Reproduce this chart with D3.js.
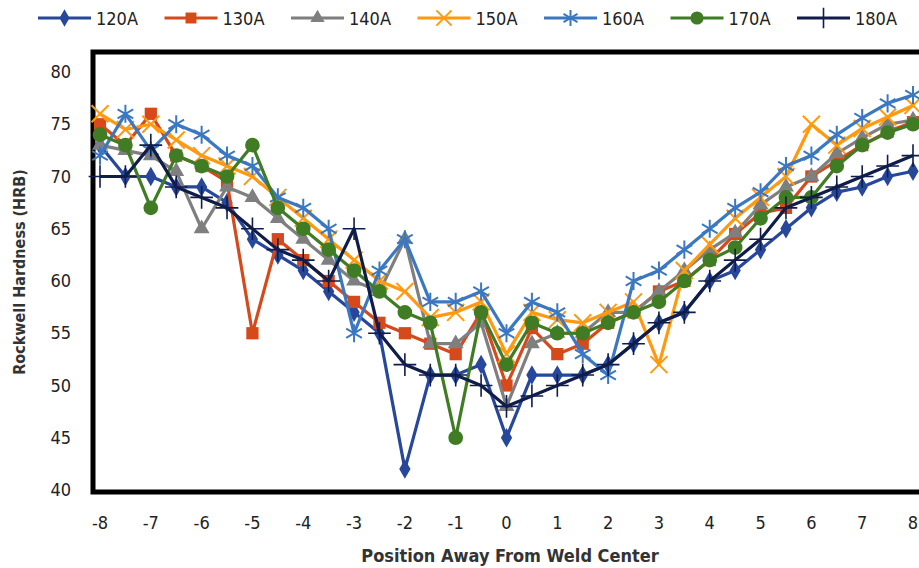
<html>
<head>
<meta charset="utf-8">
<script src="https://d3js.org/d3.v7.min.js"></script>
<style>
body { margin:0; background:#fff; }
text { font-family: "Liberation Sans Narrow", "DejaVu Sans Condensed", "Liberation Sans", sans-serif; }
</style>
</head>
<body>
<svg width="919" height="568"></svg>
<script>
// positions along the weld (mm)
var positions = [-8,-7.5,-7,-6.5,-6,-5.5,-5,-4.5,-4,-3.5,-3,-2.5,-2,-1.5,-1,-0.5,0,0.5,1,1.5,2,2.5,3,3.5,4,4.5,5,5.5,6,6.5,7,7.5,8];

var h120 = [73,70,70,69,69,67.5,64,62.5,61,59,57,55,42,51,51,52,45,51,51,51,52,54,56,57,60,61,63,65,67,68.5,69,70,70.5];
var h130 = [75,73,76,72,71,69.5,55,64,62,60,58,56,55,54,53,57,50,55.5,53,54,56,57,59,60,62,64.5,66.5,67,70,71.5,73,74.3,75.2];
var h140 = [73,72.5,72,70.5,65,69,68,66,64,62,60,59,64,54,54,56,48,54,55,55,57,57,59,61,63,64.6,67.3,69,70,72.2,73.7,75,75.4];
var h150 = [76,74.5,75,73.5,72,71,70,68,66,64,62,60,59,56.5,57,58,53,57,56.3,56,57,58,52,61,63.5,66,68,70,75,73,74.6,75.7,76.8];
var h160 = [72,76,72.5,75,74,72,71,68,67,65,55,61,64,58,58,59,55,58,57,53,51,60,61,63,65,67,68.5,71,72,74,75.6,77,77.8];
var h170 = [74,73,67,72,71,70,73,67,65,63,61,59,57,56,45,57,52,56,55,55,56,57,58,60,62,63.2,66,68,68,71,73,74.2,75];
var h180 = [70,70,73,69,68,67,65,63,62,60,65,55,52,51,51,50,48,49,50,51,52,54,56,57,60,62,64,67,68,69,70,71,72];

var seriesNames = ["120A","130A","140A","150A","160A","170A","180A"];
var seriesValues = [h120,h130,h140,h150,h160,h170,h180];
var xTicks = [-8,-7,-6,-5,-4,-3,-2,-1,0,1,2,3,4,5,6,7,8];
var yTicks = [40,45,50,55,60,65,70,75,80];

var colors = ["#27479b","#d6491a","#7f7f7f","#ff9a10","#3b78c1","#3f7c24","#101d4a"];
var shapes = [d3.symbolDiamond, d3.symbolSquare, d3.symbolTriangle, d3.symbolTimes, d3.symbolAsterisk, d3.symbolCircle, d3.symbolPlus];
var sizes = [110,150,110,190,230,170,170];
var stroked = [false,false,false,true,true,false,true];
var strokeW = [0,0,0,2,2,0,1.6];

var svg = d3.select("svg");

var x = d3.scaleLinear().domain([-8,8]).range([100,913]);
var y = d3.scaleLinear().domain([40,80]).range([490,72]);

// frame
svg.append("rect")
  .attr("x",93).attr("y",52)
  .attr("width",840).attr("height",y(40)-52+2)
  .attr("fill","none").attr("stroke","#000").attr("stroke-width",5);

// tick labels
svg.append("g").selectAll("text").data(yTicks).enter().append("text")
  .attr("x",71).attr("y",function(d){ return y(d)+6; })
  .attr("text-anchor","end").attr("font-size",18).attr("fill","#222")
  .text(function(d){ return d; });

svg.append("g").selectAll("text").data(xTicks).enter().append("text")
  .attr("x",function(d){ return x(d); }).attr("y",529)
  .attr("text-anchor","middle").attr("font-size",18).attr("fill","#222")
  .text(function(d){ return d; });

// axis titles
svg.append("text")
  .attr("x",510).attr("y",562)
  .attr("text-anchor","middle").attr("font-size",18).attr("font-weight","bold").attr("fill","#333")
  .text("Position Away From Weld Center");

svg.append("text")
  .attr("transform","translate(25,272) rotate(-90)")
  .attr("text-anchor","middle").attr("font-size",16).attr("font-weight","bold").attr("fill","#333")
  .text("Rockwell Hardness (HRB)");

var line = d3.line()
  .x(function(d,i){ return x(positions[i]); })
  .y(function(d){ return y(d); });

seriesValues.forEach(function(vals,k){
  var g = svg.append("g");
  g.append("path").datum(vals)
    .attr("d",line)
    .attr("fill","none").attr("stroke",colors[k]).attr("stroke-width",3.2)
    .attr("stroke-linejoin","round");
  g.selectAll("path.m").data(vals).enter().append("path")
    .attr("class","m")
    .attr("transform",function(d,i){ return "translate("+x(positions[i])+","+y(d)+")"; })
    .attr("d",d3.symbol().type(shapes[k]).size(sizes[k]))
    .attr("fill",stroked[k] ? "none" : colors[k])
    .attr("stroke",stroked[k] ? colors[k] : "none")
    .attr("stroke-width",strokeW[k]);
});

// legend
var legend = svg.append("g");
seriesNames.forEach(function(name,k){
  var lx = 38 + k*126.5;
  legend.append("line")
    .attr("x1",lx).attr("x2",lx+53).attr("y1",18).attr("y2",18)
    .attr("stroke",colors[k]).attr("stroke-width",3.2);
  legend.append("path")
    .attr("transform","translate("+(lx+26.5)+",18)")
    .attr("d",d3.symbol().type(shapes[k]).size(sizes[k]*0.8))
    .attr("fill",stroked[k] ? "none" : colors[k])
    .attr("stroke",stroked[k] ? colors[k] : "none")
    .attr("stroke-width",strokeW[k]);
  legend.append("text")
    .attr("x",lx+58).attr("y",24.5)
    .attr("font-size",18).attr("fill","#222")
    .text(name);
});
</script>
</body>
</html>
